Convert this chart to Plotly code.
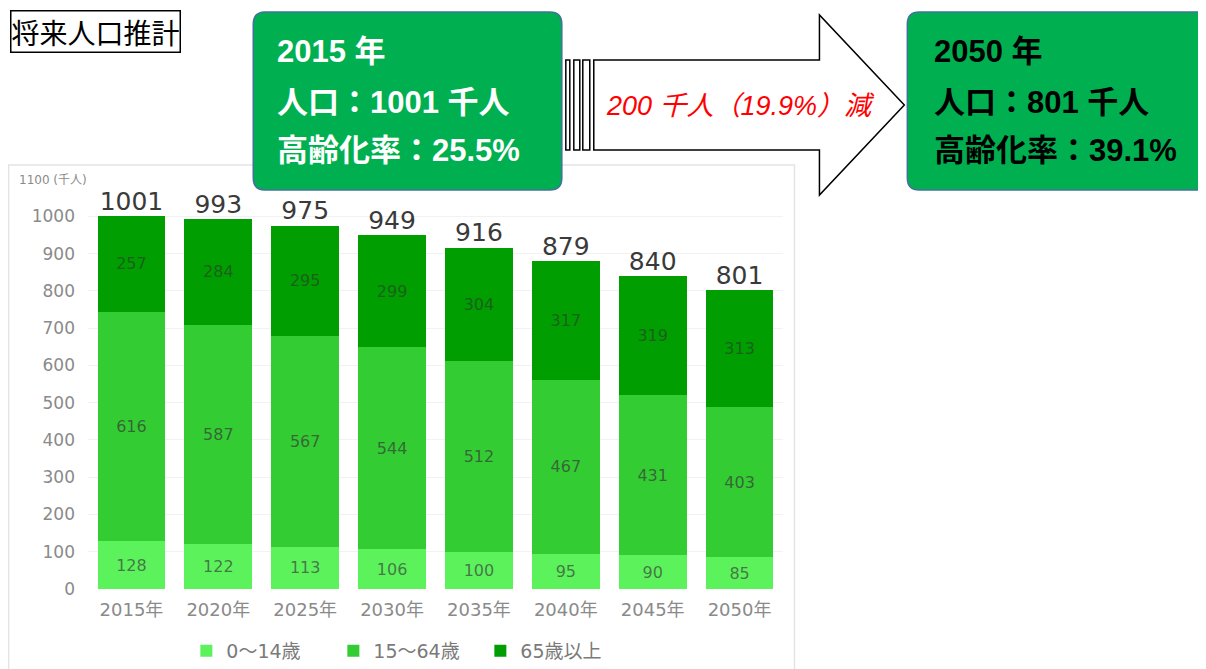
import plotly.graph_objects as go

# ---------------- data ----------------
years = ["2015年", "2020年", "2025年", "2030年", "2035年", "2040年", "2045年", "2050年"]
age_0_14 = [128, 122, 113, 106, 100, 95, 90, 85]
age_15_64 = [616, 587, 567, 544, 512, 467, 431, 403]
age_65_over = [257, 284, 295, 299, 304, 317, 319, 313]
totals = [1001, 993, 975, 949, 916, 879, 840, 801]
series_names = ["0〜14歳", "15〜64歳", "65歳以上"]
series_colors = ["#5CF25C", "#33CC33", "#009E00"]
label_colors = ["rgba(60,80,60,0.75)", "rgba(55,70,55,0.75)", "rgba(30,90,30,0.9)"]
y_ticks = [0, 100, 200, 300, 400, 500, 600, 700, 800, 900, 1000]

# ---------------- layout geometry (page pixels; page has 8px body margin) ----------------
OFF = 8
FW, FH = 1206 - OFF, 669 - OFF
PLOT_LEFT, PLOT_RIGHT, PLOT_TOP, PLOT_BOTTOM = 87.5, 783.5, 179, 589  # page coords
L = PLOT_LEFT - OFF
T = PLOT_TOP - OFF
R = FW - (PLOT_RIGHT - OFF)
B = FH - (PLOT_BOTTOM - OFF)
PW, PH = PLOT_RIGHT - PLOT_LEFT, PLOT_BOTTOM - PLOT_TOP


def px(x):
    return (x - PLOT_LEFT) / PW


def py(y):
    return (PLOT_BOTTOM - y) / PH


CHART_FONT = "DejaVu Sans, Noto Sans CJK JP, sans-serif"
BOX_FONT = "Liberation Sans, Noto Sans CJK JP, sans-serif"

fig = go.Figure()
for vals, name, col, lc in zip([age_0_14, age_15_64, age_65_over], series_names, series_colors, label_colors):
    fig.add_trace(go.Bar(
        x=years, y=vals, name=name,
        marker=dict(color=col, line=dict(width=0)),
        text=vals, textposition="inside", insidetextanchor="middle",
        textangle=0, constraintext="none",
        textfont=dict(family=CHART_FONT, size=16, color=lc),
        hoverinfo="x+y+name",
    ))

fig.add_trace(go.Scatter(
    x=years, y=totals, mode="text", text=totals, textposition="top center",
    textfont=dict(family=CHART_FONT, size=25, color="#3a3a3a"),
    showlegend=False, hoverinfo="skip", cliponaxis=False,
))


def rounded_rect(x0, y0, x1, y1, r):
    X0, X1 = px(x0), px(x1)
    Y0, Y1 = py(y0), py(y1)
    rx, ry = r / PW, r / PH
    return (f"M {X0+rx},{Y0} L {X1-rx},{Y0} Q {X1},{Y0} {X1},{Y0-ry} "
            f"L {X1},{Y1+ry} Q {X1},{Y1} {X1-rx},{Y1} "
            f"L {X0+rx},{Y1} Q {X0},{Y1} {X0},{Y1+ry} "
            f"L {X0},{Y0-ry} Q {X0},{Y0} {X0+rx},{Y0} Z")


def rect(x0, y0, x1, y1, **kw):
    d = dict(type="rect", xref="paper", yref="paper",
             x0=px(x0), x1=px(x1), y0=py(y1), y1=py(y0))
    d.update(kw)
    return d


shapes = [
    # chart image frame
    rect(8, 165, 795, 672, line=dict(color="#e4e4e4", width=1.5), fillcolor="rgba(0,0,0,0)", layer="below"),
    # left green box
    dict(type="path", xref="paper", yref="paper", path=rounded_rect(253, 12, 562, 190, 12),
         fillcolor="#00B050", line=dict(color="#41719C", width=1.5), layer="above"),
    # right green box
    dict(type="path", xref="paper", yref="paper", path=rounded_rect(908, 12, 1230, 190, 12),
         fillcolor="#00B050", line=dict(color="#41719C", width=1.5), layer="above"),
    # arrow stripes
    rect(566, 60, 570, 150, line=dict(color="black", width=1.5), fillcolor="white", layer="above"),
    rect(574, 60, 580, 150, line=dict(color="black", width=1.5), fillcolor="white", layer="above"),
    rect(583, 60, 590, 150, line=dict(color="black", width=1.5), fillcolor="white", layer="above"),
    # arrow body + head
    dict(type="path", xref="paper", yref="paper",
         path=(f"M {px(594)},{py(60)} L {px(820)},{py(60)} L {px(820)},{py(15)} "
               f"L {px(905)},{py(105)} L {px(820)},{py(195)} L {px(820)},{py(150)} "
               f"L {px(594)},{py(150)} Z"),
         fillcolor="white", line=dict(color="black", width=1.5), layer="above"),
]

annotations = [
    dict(text="将来人口推計", xref="paper", yref="paper", x=px(9), y=py(9.5),
         xanchor="left", yanchor="top", showarrow=False,
         font=dict(family="Noto Sans CJK JP", size=28, color="black"),
         bordercolor="black", borderwidth=1.5, borderpad=0, bgcolor="white"),
    dict(text="1100 (千人)", xref="paper", yref="paper", x=px(16), y=py(180),
         xanchor="left", yanchor="middle", showarrow=False,
         font=dict(family=CHART_FONT, size=12, color="#8a8a8a")),
    dict(text="<i>200 千人（19.9%）減</i>", xref="paper", yref="paper", x=px(741), y=py(106),
         xanchor="center", yanchor="middle", showarrow=False,
         font=dict(family=BOX_FONT, size=27, color="#FF0000")),
]

left_lines = ["2015 年", "人口：1001 千人", "高齢化率：25.5%"]
right_lines = ["2050 年", "人口：801 千人", "高齢化率：39.1%"]
line_y = [52, 102, 151]
for txt, yy in zip(left_lines, line_y):
    annotations.append(dict(text=f"<b>{txt}</b>", xref="paper", yref="paper", x=px(275), y=py(yy),
                            xanchor="left", yanchor="middle", showarrow=False,
                            font=dict(family=BOX_FONT, size=31, color="white")))
for txt, yy in zip(right_lines, line_y):
    annotations.append(dict(text=f"<b>{txt}</b>", xref="paper", yref="paper", x=px(933), y=py(yy),
                            xanchor="left", yanchor="middle", showarrow=False,
                            font=dict(family=BOX_FONT, size=31, color="black")))

fig.update_layout(
    width=FW, height=FH,
    margin=dict(l=L, r=R, t=T, b=B, autoexpand=False),
    paper_bgcolor="white", plot_bgcolor="white",
    barmode="stack", bargap=0.22,
    showlegend=True,
    legend=dict(orientation="h", x=px(186), xanchor="left", y=py(651), yanchor="middle",
                font=dict(family=CHART_FONT, size=19, color="#7a7a7a"),
                itemwidth=30, traceorder="normal",
                entrywidth=102, entrywidthmode="pixels"),
    xaxis=dict(showline=False, ticks="", showgrid=False, ticklabelstandoff=8,
               tickfont=dict(family=CHART_FONT, size=18, color="#8a8a8a")),
    yaxis=dict(range=[0, 1100], tickvals=y_ticks, showline=False, ticks="",
               showgrid=True, gridcolor="#f2f2f2", zeroline=False, ticklabelstandoff=12,
               tickfont=dict(family=CHART_FONT, size=17, color="#8a8a8a")),
    shapes=shapes, annotations=annotations,
)

fig.write_html("out.html")
